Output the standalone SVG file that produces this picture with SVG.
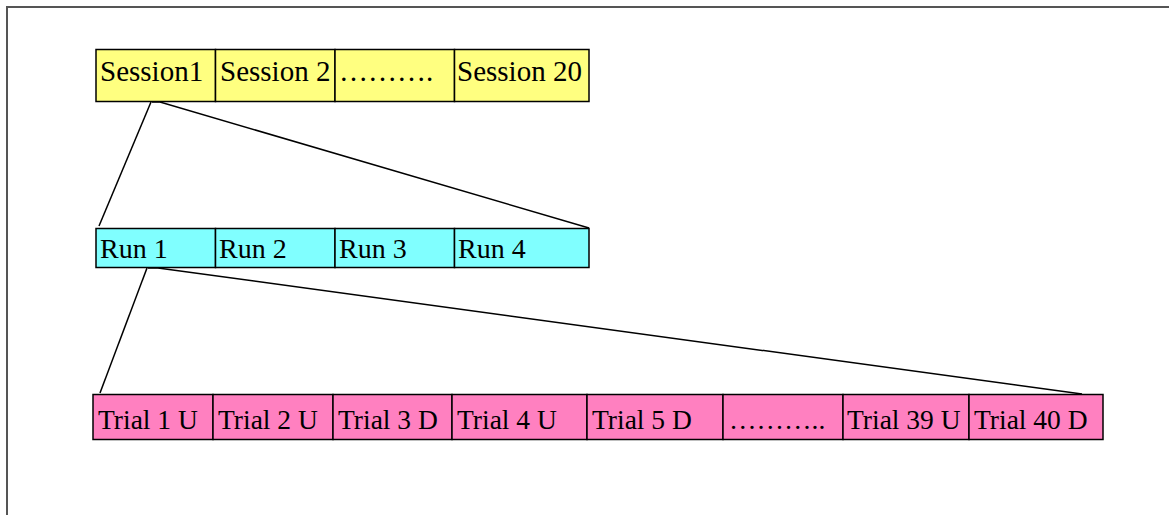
<svg xmlns="http://www.w3.org/2000/svg" width="1169" height="515" viewBox="0 0 1169 515">
<style>
.cell{stroke:#000;stroke-width:1.5}
.s{fill:#FFFF80}
.r{fill:#80FFFF}
.t{fill:#FF80C0}
text{font-family:"Liberation Serif","Times New Roman",serif;font-size:27.5px;fill:#000}
.ts{font-size:29px}
.tr{font-size:28px}
.con{stroke:#000;stroke-width:1.5;fill:none}
</style>
<rect width="1169" height="515" fill="#fff"/>
<path d="M7,515 V7 H1169" fill="none" stroke="#555" stroke-width="2"/>
<g id="connectors">
<path class="con" d="M151,102 L99,226"/>
<path class="con" d="M152,102 L160,102 L589,228"/>
<path class="con" d="M147,268 L100,393"/>
<path class="con" d="M148,268 L158,268 L1082,394"/>
</g>
<g id="session1"><rect class="cell s" x="96" y="49.5" width="119.5" height="52"/><text class="ts" x="100" y="81">Session1</text></g>
<g id="session2"><rect class="cell s" x="215.5" y="49.5" width="119.5" height="52"/><text class="ts" x="220" y="81">Session 2</text></g>
<g id="session-dots"><rect class="cell s" x="335" y="49.5" width="119.5" height="52"/><text class="ts" x="339" y="81">……….</text></g>
<g id="session20"><rect class="cell s" x="454.5" y="49.5" width="134.5" height="52"/><text class="ts" x="457" y="81">Session 20</text></g>
<g id="run1"><rect class="cell r" x="96" y="228.5" width="119.5" height="39"/><text class="tr" x="100" y="258">Run 1</text></g>
<g id="run2"><rect class="cell r" x="215.5" y="228.5" width="119.5" height="39"/><text class="tr" x="219" y="258">Run 2</text></g>
<g id="run3"><rect class="cell r" x="335" y="228.5" width="119.5" height="39"/><text class="tr" x="339" y="258">Run 3</text></g>
<g id="run4"><rect class="cell r" x="454.5" y="228.5" width="134.5" height="39"/><text class="tr" x="458" y="258">Run 4</text></g>
<g id="trial1"><rect class="cell t" x="93" y="394.5" width="120" height="45"/><text x="98" y="429">Trial 1 U</text></g>
<g id="trial2"><rect class="cell t" x="213" y="394.5" width="120" height="45"/><text x="218" y="429">Trial 2 U</text></g>
<g id="trial3"><rect class="cell t" x="333" y="394.5" width="119" height="45"/><text x="338" y="429">Trial 3 D</text></g>
<g id="trial4"><rect class="cell t" x="452" y="394.5" width="135" height="45"/><text x="457" y="429">Trial 4 U</text></g>
<g id="trial5"><rect class="cell t" x="587" y="394.5" width="136" height="45"/><text x="592" y="429">Trial 5 D</text></g>
<g id="trial-dots"><rect class="cell t" x="723" y="394.5" width="120" height="45"/><text x="729" y="429">………..</text></g>
<g id="trial39"><rect class="cell t" x="843" y="394.5" width="126" height="45"/><text x="847" y="429">Trial 39 U</text></g>
<g id="trial40"><rect class="cell t" x="969" y="394.5" width="134" height="45"/><text x="974" y="429">Trial 40 D</text></g>
</svg>
